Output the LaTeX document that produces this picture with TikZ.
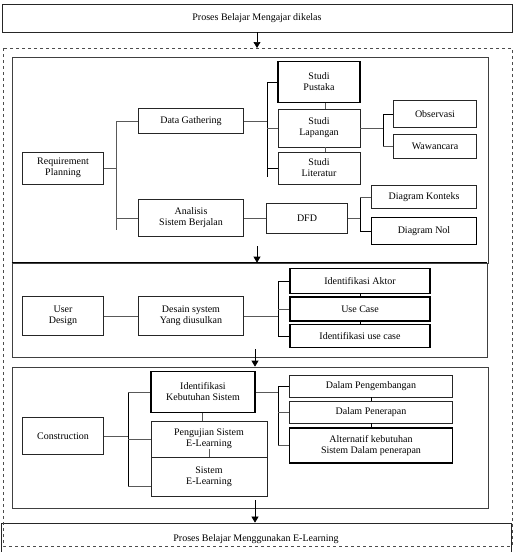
\documentclass[tikz,border=0pt]{standalone}
\usepackage{fontspec}
\setmainfont{Liberation Serif}
\usetikzlibrary{arrows.meta,positioning}

\tikzset{
  kotak/.style={draw=black!85, line width=0.8pt, align=center, inner sep=0pt,
    font=\fontsize{10}{11}\selectfont},
  tebal/.style={line width=1.3pt, draw=black},
  bagian/.style={draw=black!75, line width=0.7pt, inner sep=0pt},
  garis/.style={draw=black!65, line width=0.6pt},
  panah/.style={draw=black, line width=0.7pt, -{Triangle[length=6pt,width=7pt]}}
}

\begin{document}
\begin{tikzpicture}[x=1pt,y=-1pt]
  \useasboundingbox (0,0) rectangle (519,552);

  % awal dan akhir
  \node [kotak, minimum width=510pt, minimum height=28pt] (awal) at (257,18) {Proses Belajar Mengajar dikelas};
  \node [kotak, minimum width=510pt, minimum height=32pt] (akhir) at (256,539) {Proses Belajar Menggunakan E-Learning};
  \draw [black!70, dashed, line width=0.7pt] (3,48) rectangle (512,546);
  \coordinate (luar) at (257,48);

  % tiga tahap
  \node [bagian, minimum width=476pt, minimum height=206pt] (tahap1) at (250,160) {};
  \node [bagian, minimum width=475pt, minimum height=94pt] (tahap2) at (249.5,310) {};
  \draw [line width=1.5pt] (tahap2.north west) -- (tahap2.north east);
  \node [bagian, minimum width=476pt, minimum height=141pt] (tahap3) at (250,437.5) {};

  \coordinate (p1) at (257,246);
  \coordinate (p2) at (255,349);
  \coordinate (p3) at (255,500);
  \draw [panah] (awal.south -| luar) -- (luar);
  \draw [panah] (p1) -- (p1 |- tahap2.north);
  \draw [panah] (p2) -- (p2 |- tahap3.north);
  \draw [panah] (p3) -- (p3 |- akhir.north);

  % Requirement Planning
  \node [kotak, minimum width=81pt, minimum height=32pt] (rp) at (63,168) {Requirement\\Planning};
  \node [kotak, minimum width=105pt, minimum height=25pt] (dg) at (191,121) {Data Gathering};
  \node [kotak, minimum width=105pt, minimum height=37pt] (asb) at (191,218) {Analisis\\Sistem Berjalan};
  \node [kotak, tebal, minimum width=82pt, minimum height=41pt] (sp) at (319,82) {Studi\\Pustaka};
  \node [kotak, minimum width=82pt, minimum height=38pt] (sl) at (319,128) {Studi\\Lapangan};
  \node [kotak, minimum width=82pt, minimum height=32pt] (slit) at (319,168) {Studi\\Literatur};
  \node [kotak, minimum width=83pt, minimum height=27pt] (obs) at (435,114) {Observasi};
  \node [kotak, minimum width=83pt, minimum height=24pt] (waw) at (435,146) {Wawancara};
  \node [kotak, minimum width=81pt, minimum height=30pt] (dfd) at (307,218) {DFD};
  \node [kotak, minimum width=105pt, minimum height=23pt] (dk) at (424,197) {Diagram Konteks};
  \node [kotak, tebal, minimum width=105pt, minimum height=27pt] (dn) at (424,231) {Diagram Nol};

  \coordinate (b1a) at (116,121);
  \coordinate (b1b) at (116,230);
  \draw [garis] (rp.east) -- (rp.east -| b1a);
  \draw [garis] (b1a) -- (b1b);
  \draw [garis] (b1a) -- (dg.west);
  \draw [garis] (b1a |- asb.west) -- (asb.west);

  \coordinate (b2a) at (267,82);
  \coordinate (b2b) at (267,177);
  \draw [garis] (dg.east) -- (dg.east -| b2a);
  \draw [garis, black] (b2a) -- (b2b);
  \draw [garis, black] (b2a) -- (sp.west);
  \draw [garis] (b2a |- sl.west) -- (sl.west);
  \draw [garis, black] (b2a |- slit.west) -- (slit.west);
  \draw [garis] ([xshift=6pt]sp.south) -- ([xshift=6pt]sl.north);
  \draw [garis] ([xshift=6pt]sl.south) -- ([xshift=6pt]slit.north);

  \coordinate (b3) at (383,114);
  \draw [garis] (sl.east) -- (sl.east -| b3);
  \draw [garis, black] (b3) -- (b3 |- waw.west);
  \draw [garis, black] (b3) -- (obs.west);
  \draw [garis] (b3 |- waw.west) -- (waw.west);

  \draw [garis] (asb.east) -- (dfd.west);
  \coordinate (b4) at (360,197);
  \draw [garis] (dfd.east) -- (dfd.east -| b4);
  \draw [garis, black] (b4) -- (b4 |- dn.west);
  \draw [garis] (b4) -- (dk.west);
  \draw [garis, black] (b4 |- dn.west) -- (dn.west);

  % User Design
  \node [kotak, minimum width=81pt, minimum height=39pt] (ud) at (63,316) {User\\Design};
  \node [kotak, minimum width=105pt, minimum height=39pt] (dsy) at (191,316) {Desain system\\Yang diusulkan};
  \node [kotak, tebal, minimum width=140pt, minimum height=25pt] (ia) at (360,281) {Identifikasi Aktor};
  \node [kotak, tebal, minimum width=140pt, minimum height=24pt] (uc) at (360,309) {Use Case};
  \node [kotak, tebal, minimum width=140pt, minimum height=23pt] (iuc) at (360,336) {Identifikasi use case};

  \draw [garis] (ud.east) -- (dsy.west);
  \coordinate (b5) at (278,281);
  \draw [garis] (dsy.east) -- (dsy.east -| b5);
  \draw [garis, black] (b5) -- (b5 |- iuc.west);
  \draw [garis, black] (b5) -- (ia.west);
  \draw [garis] (b5 |- uc.west) -- (uc.west);
  \draw [garis, black] (b5 |- iuc.west) -- (iuc.west);
  \draw [garis, black, line width=1pt] (ia.south) -- (uc.north);
  \draw [garis, black, line width=1pt] (uc.south) -- (iuc.north);

  % Construction
  \node [kotak, minimum width=81pt, minimum height=37pt] (con) at (63,436) {Construction};
  \node [kotak, tebal, minimum width=104pt, minimum height=41pt] (iks) at (203,392) {Identifikasi\\Kebutuhan Sistem};
  \node [kotak, minimum width=116pt, minimum height=36pt] (pse) at (209,439) {Pengujian Sistem\\E-Learning};
  \node [kotak, minimum width=116pt, minimum height=39pt] (se) at (209,476.5) {Sistem\\E-Learning};
  \node [kotak, minimum width=163pt, minimum height=22pt] (dp) at (371,386) {Dalam Pengembangan};
  \node [kotak, minimum width=163pt, minimum height=22pt] (dpn) at (371,412) {Dalam Penerapan};
  \node [kotak, tebal, minimum width=163pt, minimum height=35pt] (akd) at (371,445.5) {Alternatif kebutuhan\\Sistem Dalam penerapan};

  \coordinate (b6a) at (128,392);
  \coordinate (b6b) at (128,486);
  \draw [garis] (con.east) -- (con.east -| b6a);
  \draw [garis, black] (b6a) -- (b6b);
  \draw [garis] (b6a) -- (iks.west);
  \draw [garis] (b6a |- pse.west) -- (pse.west);
  \draw [garis] (b6b) -- (b6b -| se.west);
  \draw [garis] ([xshift=-1pt]iks.south) -- ([xshift=-1pt]iks.south |- pse.north);
  \draw [garis] (pse.center |- se.north) -- ++(0,-8);

  \coordinate (b7) at (278,386);
  \draw [garis] (iks.east) -- (iks.east -| b7);
  \draw [garis, black] (b7) -- (b7 |- akd.west);
  \draw [garis, black] (b7) -- (dp.west);
  \draw [garis] (b7 |- dpn.west) -- (dpn.west);
  \draw [garis] (b7 |- akd.west) -- (akd.west);
  \draw [garis, black] (dp.south) -- (dpn.north);
  \draw [garis, black] (dpn.south) -- (akd.north);
\end{tikzpicture}
\end{document}
